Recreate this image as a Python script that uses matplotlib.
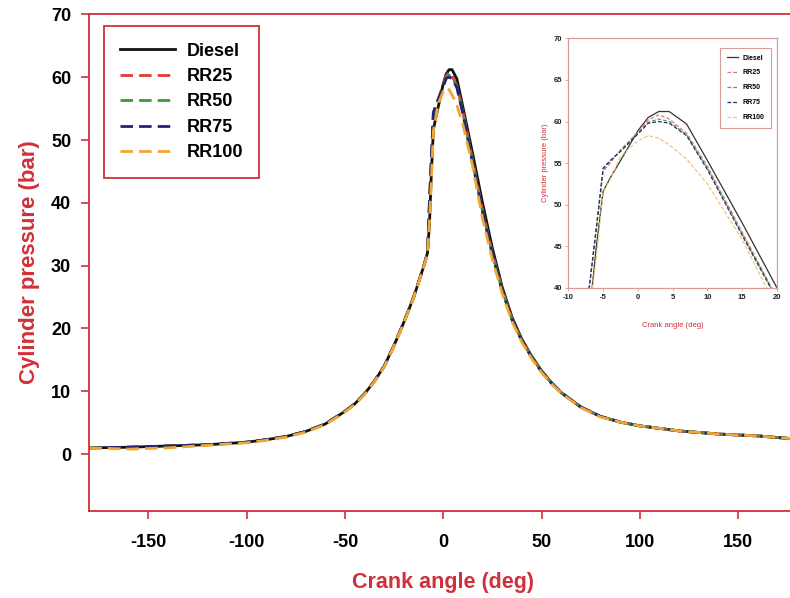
import matplotlib
matplotlib.use("Agg")
import matplotlib.pyplot as plt

plt.rcParams["font.family"] = ["Liberation Sans", "DejaVu Sans"]
plt.rcParams["font.weight"] = "bold"
plt.rcParams["axes.unicode_minus"] = False

# crank angle grid (deg), shared by all fuels
crank_angle = [-180, -160, -140, -120, -100, -90, -80, -70, -60, -50, -45, -40, -35, -30, -25,
               -20, -15, -10, -8, -7, -6, -5, -4, -2.5, 0, 1.5, 3, 4.5, 7, 10,
               15, 20, 25, 30, 35, 40, 45, 50, 55, 60, 70, 80, 90, 100, 120, 140, 160, 180]

diesel = [1.0, 1.1, 1.3, 1.5, 1.9, 2.3, 2.8, 3.6, 4.8, 6.8, 8.0, 9.6, 11.6, 14.0, 17.3,
          21.0, 25.0, 29.8, 32.0, 36.5, 44.8, 51.6, 53.2, 55.3, 58.9, 60.5, 61.2, 61.2, 59.7, 55.3,
          47.8, 40.0, 32.8, 26.6, 21.8, 18.3, 15.6, 13.3, 11.4, 9.8, 7.5, 6.0, 5.1, 4.5, 3.7, 3.2, 2.9, 2.4]
rr25 = [1.0, 1.1, 1.3, 1.5, 1.9, 2.3, 2.8, 3.6, 4.8, 6.8, 8.0, 9.6, 11.6, 14.0, 17.3,
        21.0, 25.0, 29.8, 32.0, 40.0, 47.0, 54.0, 55.0, 56.6, 58.7, 60.2, 60.8, 60.3, 58.6, 54.6,
        46.7, 38.8, 32.0, 26.2, 21.5, 18.1, 15.5, 13.2, 11.4, 9.8, 7.5, 6.0, 5.1, 4.5, 3.7, 3.2, 2.9, 2.4]
rr50 = [1.0, 1.1, 1.3, 1.5, 1.9, 2.3, 2.8, 3.6, 4.8, 6.8, 8.0, 9.6, 11.6, 14.0, 17.3,
        21.0, 25.0, 29.8, 32.0, 40.0, 47.0, 54.2, 55.2, 56.5, 58.6, 59.9, 60.3, 60.0, 58.4, 54.4,
        46.5, 38.7, 31.9, 26.1, 21.5, 18.1, 15.5, 13.2, 11.4, 9.8, 7.5, 6.0, 5.1, 4.5, 3.7, 3.2, 2.9, 2.4]
rr75 = [1.0, 1.1, 1.3, 1.5, 1.9, 2.3, 2.8, 3.6, 4.8, 6.8, 8.0, 9.6, 11.6, 14.0, 17.3,
        21.0, 25.0, 29.8, 32.0, 40.0, 47.0, 54.4, 55.3, 56.4, 58.5, 59.8, 60.0, 59.8, 58.3, 54.2,
        46.3, 38.6, 31.8, 26.0, 21.4, 18.0, 15.4, 13.1, 11.3, 9.8, 7.5, 6.0, 5.1, 4.5, 3.7, 3.2, 2.9, 2.4]
rr100 = [1.0, 0.8, 1.0, 1.4, 1.8, 2.2, 2.7, 3.5, 4.7, 6.7, 7.9, 9.5, 11.5, 13.9, 17.2,
         20.9, 24.9, 29.7, 31.8, 37.0, 43.5, 51.5, 53.0, 55.8, 57.7, 58.3, 58.0, 57.2, 55.5, 52.5,
         45.8, 37.5, 31.0, 25.6, 21.1, 17.8, 15.2, 13.0, 11.2, 9.7, 7.4, 5.9, 5.1, 4.5, 3.7, 3.2, 2.9, 2.4]

labels = ["Diesel", "RR25", "RR50", "RR75", "RR100"]
series = [diesel, rr25, rr50, rr75, rr100]
main_colors = ["#111111", "#e03a3a", "#3a9a3a", "#22227a", "#f0a830"]
inset_colors = ["#333333", "#e07a7a", "#5a9a6a", "#223366", "#f2c47a"]

red = "#d0303a"
light_red = "#d99a9a"

fig = plt.figure(figsize=(7.9, 5.98), dpi=100)
ax = fig.add_axes([0.113, 0.146, 0.896, 0.830])

for i, (lab, y) in enumerate(zip(labels, series)):
    if i == 0:
        ax.plot(crank_angle, y, color=main_colors[i], lw=2.0, label=lab)
    else:
        ax.plot(crank_angle, y, color=main_colors[i], lw=2.0, label=lab,
                dashes=(4.5, 2.2))

ax.set_xlim(-180, 180)
ax.set_ylim(-9, 70)
ax.set_xticks([-150, -100, -50, 0, 50, 100, 150])
ax.set_yticks([0, 10, 20, 30, 40, 50, 60, 70])
ax.tick_params(axis="both", colors=red, labelcolor="black", labelsize=13,
               length=6, width=1.2)
ax.tick_params(axis="x", pad=11)
ax.tick_params(axis="y", pad=7)
for sp in ax.spines.values():
    sp.set_color(red)
    sp.set_linewidth(1.3)
ax.set_xlabel("Crank angle (deg)", color=red, fontsize=15.5, fontweight="bold", labelpad=15)
ax.set_ylabel("Cylinder pressure (bar)", color=red, fontsize=16, fontweight="bold", labelpad=8)

leg = ax.legend(loc="upper left", bbox_to_anchor=(0.021, 0.976), borderaxespad=0,
                fontsize=13, handlelength=3.0, handletextpad=0.65, labelspacing=0.47,
                borderpad=0.9, fancybox=False, framealpha=1)
leg.get_frame().set_edgecolor(red)
leg.get_frame().set_linewidth(1.3)
for t in leg.get_texts():
    t.set_fontweight("bold")

# inset zoom near TDC
axi = fig.add_axes([0.7194, 0.5184, 0.2642, 0.4176])
for i, (lab, y) in enumerate(zip(labels, series)):
    if i == 0:
        axi.plot(crank_angle, y, color=inset_colors[i], lw=0.9, label=lab)
    else:
        axi.plot(crank_angle, y, color=inset_colors[i], lw=0.9, label=lab,
                 dashes=(3, 1.6))
axi.set_xlim(-10, 20)
axi.set_ylim(40, 70)
axi.set_xticks([-10, -5, 0, 5, 10, 15, 20])
axi.set_yticks([40, 45, 50, 55, 60, 65, 70])
axi.tick_params(axis="both", colors=light_red, labelcolor="#222222", labelsize=5.5,
                length=2, width=0.6, pad=2.5)
for sp in axi.spines.values():
    sp.set_color(light_red)
    sp.set_linewidth(0.9)
axi.set_xlabel("Crank angle (deg)", color=red, fontsize=5.5, labelpad=15)
axi.set_ylabel("Cylinder pressure (bar)", color=red, fontsize=5.5, labelpad=3)
ileg = axi.legend(loc="upper right", bbox_to_anchor=(0.97, 0.96), borderaxespad=0,
                  fontsize=5, handlelength=1.7, handletextpad=0.6, labelspacing=1.15,
                  borderpad=0.9, fancybox=False, framealpha=1)
ileg.get_frame().set_edgecolor(light_red)
ileg.get_frame().set_linewidth(0.8)

fig.savefig("out.png", dpi=100)
